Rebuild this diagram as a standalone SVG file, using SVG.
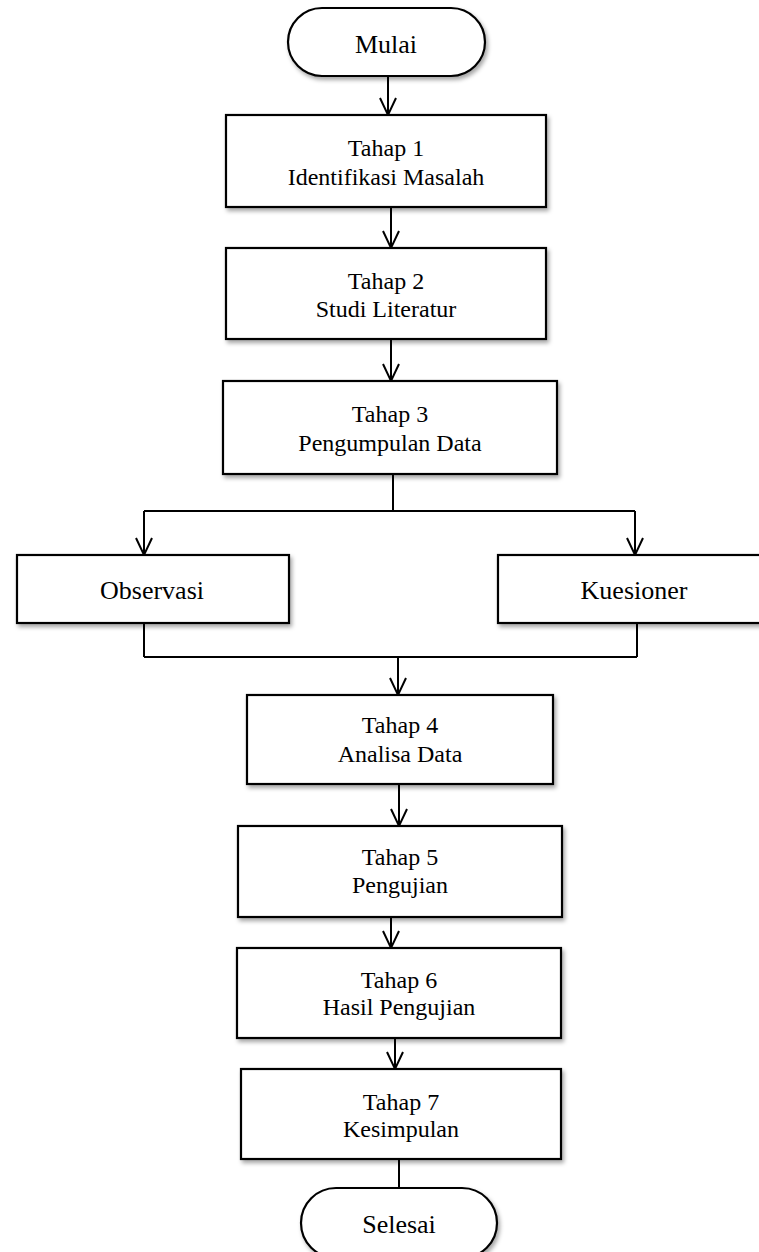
<svg xmlns="http://www.w3.org/2000/svg" width="759" height="1252" viewBox="0 0 759 1252">
<defs>
<filter id="sh" x="-10%" y="-10%" width="130%" height="140%">
<feDropShadow dx="2" dy="3" stdDeviation="2" flood-color="#000" flood-opacity="0.35"/>
</filter>
<marker id="arr" viewBox="0 0 18 16" refX="17" refY="8" markerWidth="18" markerHeight="16" markerUnits="userSpaceOnUse" orient="auto" overflow="visible">
<path d="M0,0 L17,8 L0,16" fill="none" stroke="#000" stroke-width="2"/>
</marker>
</defs>
<style>
.b{fill:#fff;stroke:#000;stroke-width:2.2;filter:url(#sh)}
.t{font-family:"Liberation Serif","Times New Roman",serif;font-size:24px;fill:#000;text-anchor:middle}
.t2{font-family:"Liberation Serif","Times New Roman",serif;font-size:26px;fill:#000;text-anchor:middle}
.c{fill:none;stroke:#000;stroke-width:2}
.a{fill:none;stroke:#000;stroke-width:2;marker-end:url(#arr)}
</style>
<rect width="759" height="1252" fill="#fff"/>
<g id="connectors">
<line class="a" x1="388" y1="76" x2="388" y2="115"/>
<line class="a" x1="391" y1="207" x2="391" y2="248"/>
<line class="a" x1="391" y1="339" x2="391" y2="381"/>
<polyline class="c" points="393,474 393,511"/>
<line class="c" x1="144" y1="511" x2="635" y2="511"/>
<line class="a" x1="144" y1="511" x2="144" y2="555"/>
<line class="a" x1="635" y1="511" x2="635" y2="555"/>
<line class="c" x1="144" y1="623" x2="144" y2="657"/>
<line class="c" x1="637" y1="623" x2="637" y2="657"/>
<line class="c" x1="144" y1="657" x2="637" y2="657"/>
<line class="a" x1="398" y1="657" x2="398" y2="695"/>
<line class="a" x1="399" y1="784" x2="399" y2="826"/>
<line class="a" x1="391" y1="917" x2="391" y2="948"/>
<line class="a" x1="395" y1="1038" x2="395" y2="1069"/>
<line class="c" x1="399" y1="1159" x2="399" y2="1188"/>
</g>
<g id="mulai">
<rect class="b" x="288" y="8" width="197" height="68" rx="34" ry="34"/>
<text class="t2" x="386" y="53">Mulai</text>
</g>
<g id="tahap1">
<rect class="b" x="226" y="115" width="320" height="92"/>
<text class="t" x="386" y="156">Tahap 1</text>
<text class="t" x="386" y="185">Identifikasi Masalah</text>
</g>
<g id="tahap2">
<rect class="b" x="226" y="248" width="320" height="91"/>
<text class="t" x="386" y="289">Tahap 2</text>
<text class="t" x="386" y="317">Studi Literatur</text>
</g>
<g id="tahap3">
<rect class="b" x="223" y="381" width="334" height="93"/>
<text class="t" x="390" y="422">Tahap 3</text>
<text class="t" x="390" y="451">Pengumpulan Data</text>
</g>
<g id="observasi">
<rect class="b" x="17" y="555" width="272" height="68"/>
<text class="t2" x="152" y="599">Observasi</text>
</g>
<g id="kuesioner">
<rect class="b" x="498" y="555" width="272" height="68"/>
<text class="t2" x="634" y="599">Kuesioner</text>
</g>
<g id="tahap4">
<rect class="b" x="247" y="695" width="306" height="89"/>
<text class="t" x="400" y="733">Tahap 4</text>
<text class="t" x="400" y="762">Analisa Data</text>
</g>
<g id="tahap5">
<rect class="b" x="238" y="826" width="324" height="91"/>
<text class="t" x="400" y="865">Tahap 5</text>
<text class="t" x="400" y="893">Pengujian</text>
</g>
<g id="tahap6">
<rect class="b" x="237" y="948" width="324" height="90"/>
<text class="t" x="399" y="988">Tahap 6</text>
<text class="t" x="399" y="1015">Hasil Pengujian</text>
</g>
<g id="tahap7">
<rect class="b" x="241" y="1069" width="320" height="90"/>
<text class="t" x="401" y="1110">Tahap 7</text>
<text class="t" x="401" y="1137">Kesimpulan</text>
</g>
<g id="selesai">
<rect class="b" x="301" y="1188" width="196" height="70" rx="35" ry="35"/>
<text class="t2" x="399" y="1233">Selesai</text>
</g>
</svg>
